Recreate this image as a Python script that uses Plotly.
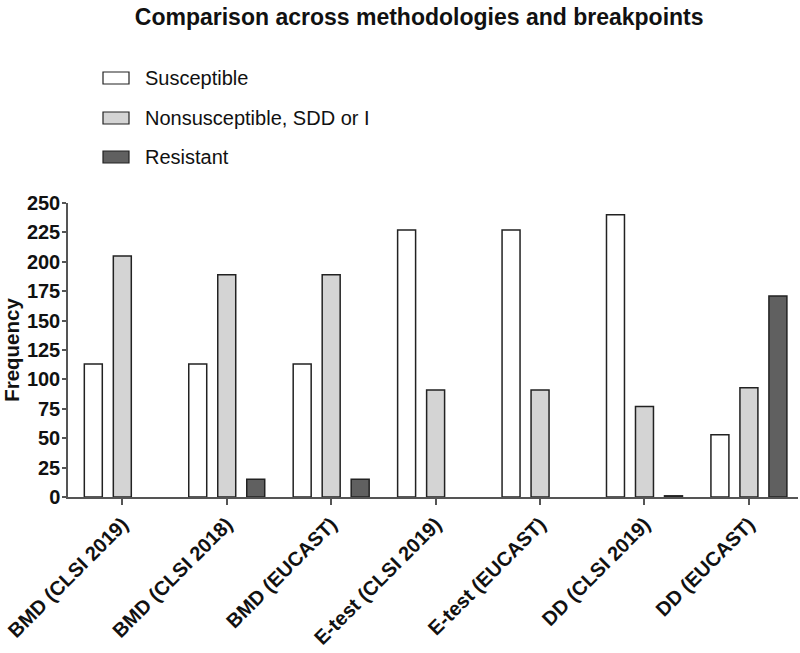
import plotly.graph_objects as go

# data
categories = ["BMD (CLSI 2019)", "BMD (CLSI 2018)", "BMD (EUCAST)",
              "E-test (CLSI 2019)", "E-test (EUCAST)", "DD (CLSI 2019)", "DD (EUCAST)"]
susceptible = [113, 113, 113, 227, 227, 240, 53]
nonsusceptible = [205, 189, 189, 91, 91, 77, 93]
resistant = [0, 15, 15, 0, 0, 1, 171]

series_names = ["Susceptible", "Nonsusceptible, SDD or I", "Resistant"]
series_colors = ["#ffffff", "#d4d4d4", "#606060"]
series_values = [susceptible, nonsusceptible, resistant]

FONT = "Liberation Sans, Arial, sans-serif"

fig = go.Figure()
for name, col, vals in zip(series_names, series_colors, series_values):
    fig.add_trace(go.Bar(
        x=categories, y=vals, name=name,
        marker=dict(color=col,
                    line=dict(color="#222222", width=[0 if v == 0 else 1.5 for v in vals])),
        showlegend=False,
    ))

# hand-made legend (wide rectangular keys like the original)
L, W, B, H = 68, 730, 497, 294
rows = [78, 118, 157]
for i, (name, col) in enumerate(zip(series_names, series_colors)):
    cy = rows[i]
    fig.add_shape(type="rect", xref="paper", yref="paper",
                  x0=(103 - L) / W, x1=(129 - L) / W,
                  y0=(B - (cy + 6)) / H, y1=(B - (cy - 6)) / H,
                  fillcolor=col, line=dict(color="#222222", width=1.2))
    fig.add_annotation(xref="paper", yref="paper", x=(143 - L) / W, y=(B - cy) / H,
                       text=name, showarrow=False, xanchor="left", yanchor="middle",
                       font=dict(family=FONT, size=20, color="#111111"))

fig.update_layout(
    width=800, height=653,
    margin=dict(l=68, r=2, t=203, b=156),
    paper_bgcolor="white", plot_bgcolor="white",
    barmode="group", bargap=0.167, bargroupgap=0.38,
    title=dict(text="<b>Comparison across methodologies and breakpoints</b>",
               x=0.524, xanchor="center", y=0.974, yanchor="middle",
               font=dict(family=FONT, size=23, color="#111111")),
    xaxis=dict(range=[-0.52, 6.47], showline=True, linecolor="#555555", linewidth=1.5,
               ticks="outside", ticklen=6, tickcolor="#555555", tickwidth=1.5,
               tickangle=-45, automargin=False,
               tickfont=dict(family=FONT, size=20, color="#111111", weight="bold"),
               showgrid=False, zeroline=False),
    yaxis=dict(range=[0, 250], dtick=25, showline=True, linecolor="#555555", linewidth=1.5,
               ticks="outside", ticklen=4, tickcolor="#555555", tickwidth=1.5,
               ticklabelstandoff=-2, automargin=False,
               tickfont=dict(family=FONT, size=20, color="#111111", weight="bold"),
               title=dict(text="<b>Frequency</b>", standoff=2,
                          font=dict(family=FONT, size=20.5, color="#111111")),
               showgrid=False, zeroline=False),
)

# drop the default 8px body margin so the figure fills the window
fig.write_html("out.html", config={"displayModeBar": False},
               post_script="document.body.style.margin='0px';")
